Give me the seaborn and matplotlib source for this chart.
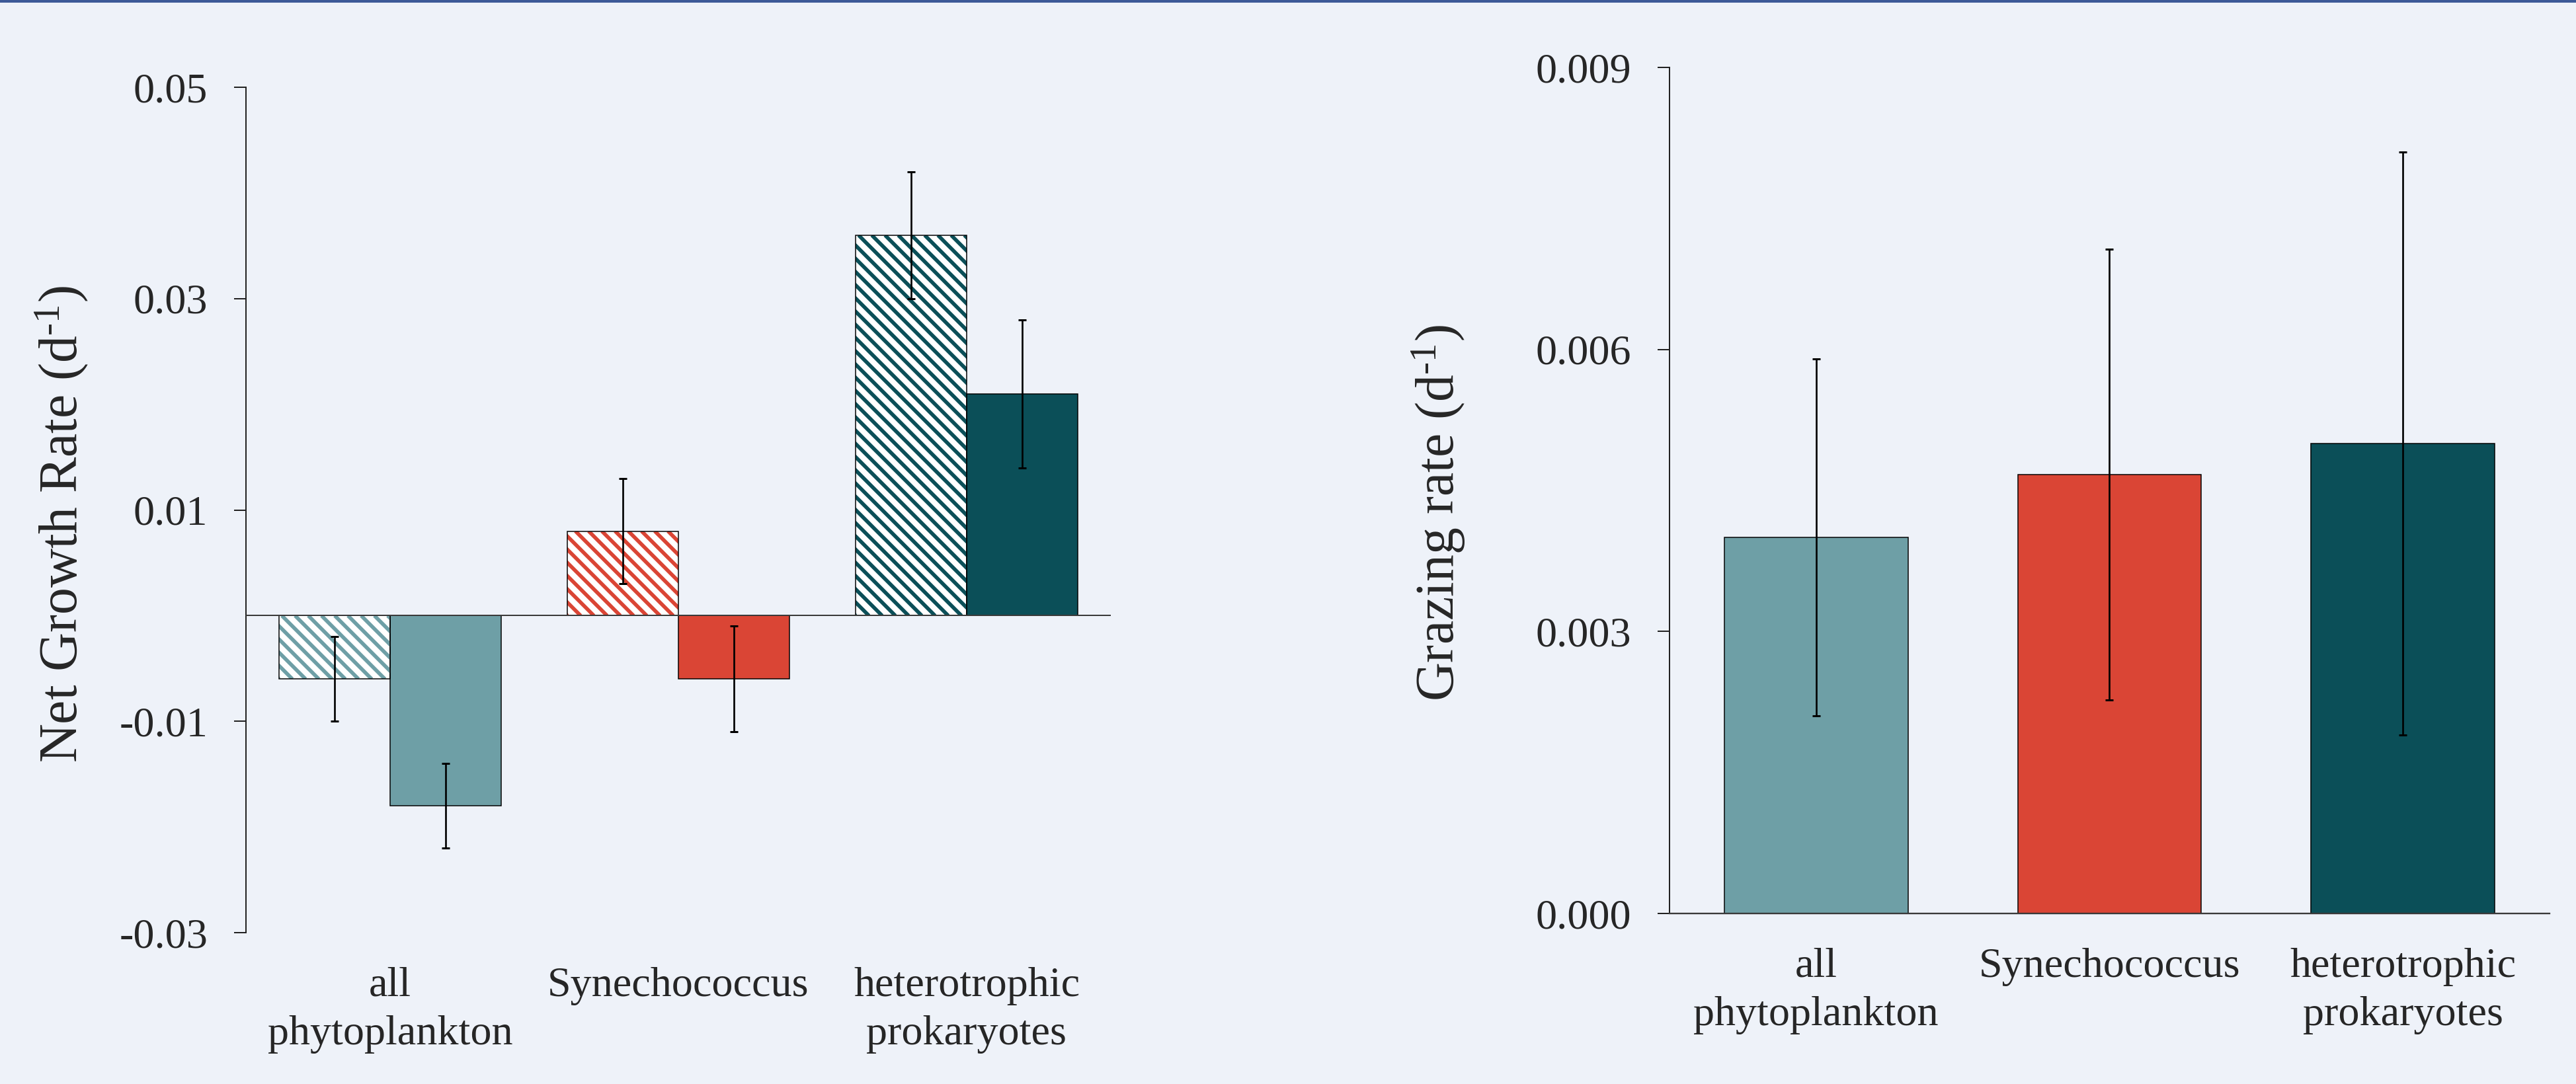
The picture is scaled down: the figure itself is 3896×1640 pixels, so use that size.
import matplotlib
matplotlib.use("Agg")
import matplotlib.pyplot as plt
from matplotlib.patches import Rectangle
from matplotlib.lines import Line2D
from matplotlib.transforms import IdentityTransform
from matplotlib.ticker import FixedLocator, FormatStrFormatter
import numpy as np
import pandas as pd
import seaborn as sns

# ---- data -------------------------------------------------------------
groups = ["all\nphytoplankton", "Synechococcus", "heterotrophic\nprokaryotes"]
conditions = ["diluted", "whole"]          # drawn hatched / solid

net_growth_diluted = [-0.006, 0.008, 0.036]
net_growth_diluted_err = [0.004, 0.005, 0.006]
net_growth_whole = [-0.018, -0.006, 0.021]
net_growth_whole_err = [0.004, 0.005, 0.007]

grazing_rate = [0.0040, 0.00467, 0.0050]
grazing_rate_err = [0.0019, 0.0024, 0.0031]

net_ticks = [-0.03, -0.01, 0.01, 0.03, 0.05]
grazing_ticks = [0.000, 0.003, 0.006, 0.009]

# ---- style ------------------------------------------------------------
group_colors = ["#6E9FA6", "#DA4535", "#0B4F58"]
BG = "#EEF2F9"
DPI = 120
TICK_FS = 38.5
LABEL_FS = 49
STRIPE_STEP_PX = 20      # horizontal spacing of the diagonal hatch stripes
STRIPE_LW = 3.4          # stripe width in points

sns.set_theme(style="ticks")
plt.rcParams.update({
    "font.family": ["Liberation Serif", "DejaVu Serif"],
    "mathtext.fontset": "custom",
    "mathtext.rm": "Liberation Serif",
    "mathtext.it": "Liberation Serif:italic",
    "axes.unicode_minus": False,
    "figure.facecolor": BG,
    "axes.facecolor": BG,
    "savefig.facecolor": BG,
})

net_df = pd.DataFrame({
    "group": groups * 2,
    "condition": [conditions[0]] * 3 + [conditions[1]] * 3,
    "rate": net_growth_diluted + net_growth_whole,
    "err": net_growth_diluted_err + net_growth_whole_err,
})
graz_df = pd.DataFrame({"group": groups, "rate": grazing_rate, "err": grazing_rate_err})


def add_stripes(ax, patch, color):
    """Fill a bar with 45-degree stripes running from upper left to lower right."""
    bb = patch.get_window_extent()
    h = bb.height
    for c in np.arange(-h - STRIPE_STEP_PX, bb.width + STRIPE_STEP_PX, STRIPE_STEP_PX):
        ln = Line2D([bb.x0 + c, bb.x0 + c + h], [bb.y1, bb.y0],
                    transform=IdentityTransform(), color=color, linewidth=STRIPE_LW,
                    solid_capstyle="butt", zorder=patch.get_zorder() + 0.05)
        ax.add_artist(ln)
        ln.set_clip_path(patch)   # after add_artist, which would reset it


fig = plt.figure(figsize=(3896 / DPI, 1640 / DPI), dpi=DPI)
ax1 = fig.add_axes([0.0955, 0.1396, 0.3357, 0.7799])
ax2 = fig.add_axes([0.6481, 0.1573, 0.3416, 0.7805])

# ---- left panel: net growth rate ---------------------------------------
sns.barplot(data=net_df, x="group", y="rate", hue="condition",
            order=groups, hue_order=conditions, width=0.77,
            errorbar=None, legend=False, ax=ax1)
ax1.set_xlim(-0.5, 2.5)
ax1.set_ylim(-0.03, 0.05)

bar_containers = list(ax1.containers)
for ci, container in enumerate(bar_containers):
    sub = net_df[net_df["condition"] == conditions[ci]]
    xs = []
    for gi, patch in enumerate(container.patches):
        color = group_colors[gi]
        if ci == 0:
            patch.set_facecolor("white")
            patch.set_edgecolor("none")
            patch.set_linewidth(0)
            add_stripes(ax1, patch, color)
            ax1.add_patch(Rectangle(patch.get_xy(), patch.get_width(), patch.get_height(),
                                    fill=False, edgecolor="black", linewidth=0.9,
                                    zorder=patch.get_zorder() + 0.1))
        else:
            patch.set_facecolor(color)
            patch.set_edgecolor("black")
            patch.set_linewidth(0.9)
        xs.append(patch.get_x() + patch.get_width() / 2)
    ax1.errorbar(xs, sub["rate"].values, yerr=sub["err"].values, fmt="none",
                 ecolor="black", elinewidth=1.6, capsize=3.8, capthick=1.8, zorder=5)

ax1.axhline(0, color="#3a3a3a", linewidth=1.2, zorder=3)
ax1.set_xlim(-0.5, 2.5)
ax1.set_ylim(-0.03, 0.05)
ax1.yaxis.set_major_locator(FixedLocator(net_ticks))
ax1.yaxis.set_major_formatter(FormatStrFormatter("%.2f"))
ax1.set_xlabel("")
ax1.set_ylabel("Net Growth Rate (d$^{\u20101}$)", fontsize=LABEL_FS)
ax1.yaxis.set_label_coords(-0.180, 0.483)

# ---- right panel: grazing rate ------------------------------------------
sns.barplot(data=graz_df, x="group", y="rate", hue="group", order=groups,
            hue_order=groups, palette=group_colors, width=0.626,
            errorbar=None, legend=False, ax=ax2, edgecolor="black", linewidth=0.9,
            saturation=1)
xs = []
for container in list(ax2.containers):
    for patch in container.patches:
        xs.append(patch.get_x() + patch.get_width() / 2)
ax2.errorbar(xs, graz_df["rate"].values, yerr=graz_df["err"].values, fmt="none",
             ecolor="black", elinewidth=1.6, capsize=3.8, capthick=1.8, zorder=5)
ax2.set_xlim(-0.5, 2.5)
ax2.set_ylim(0, 0.009)
ax2.yaxis.set_major_locator(FixedLocator(grazing_ticks))
ax2.yaxis.set_major_formatter(FormatStrFormatter("%.3f"))
ax2.set_xlabel("")
ax2.set_ylabel("Grazing rate (d$^{\u20101}$)", fontsize=LABEL_FS)
ax2.yaxis.set_label_coords(-0.230, 0.473)

# ---- common axis styling -------------------------------------------------
for ax in (ax1, ax2):
    ax.set_facecolor(BG)
    for side in ("top", "right"):
        ax.spines[side].set_visible(False)
    ax.spines["left"].set_color("#222222")
    ax.spines["left"].set_linewidth(1.2)
    ax.set_xticks(range(len(groups)), labels=groups, linespacing=1.35, ha="center")
    ax.tick_params(axis="y", which="major", length=10.8, width=1.2, color="#222222",
                   labelsize=TICK_FS, pad=24, direction="out")
    ax.tick_params(axis="x", which="major", length=0, labelsize=TICK_FS, pad=31)

ax1.spines["bottom"].set_visible(False)
ax2.spines["bottom"].set_color("#3a3a3a")
ax2.spines["bottom"].set_linewidth(1.4)

# thin accent band along the top edge
fig.add_artist(Rectangle((0, 1 - 4 / 1640), 1, 4 / 1640, transform=fig.transFigure,
                         facecolor="#3D5A98", edgecolor="none"))

fig.savefig("out.png", dpi=DPI, facecolor=BG)
